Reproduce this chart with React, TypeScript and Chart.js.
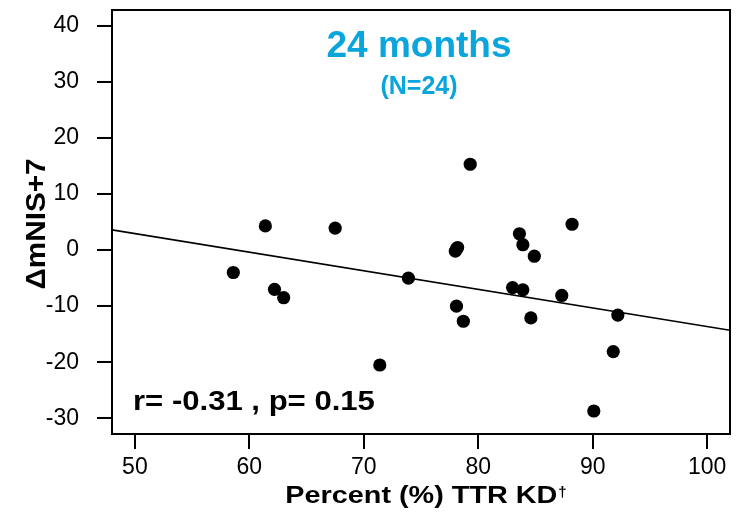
import { useEffect, useRef } from 'react';
import { Chart, registerables } from 'chart.js';

Chart.register(...registerables);

// Percent (%) TTR knockdown for each patient
const ttrKd = [58.6, 61.4, 62.2, 63.0, 67.5, 71.4, 73.9, 79.3, 78.0, 78.2, 78.1, 78.1, 78.7, 83.0, 83.6, 83.9, 83.9, 84.9, 84.6, 87.3, 88.2, 91.8, 92.2, 90.1];
// Change in mNIS+7 at 24 months
const deltaMnis = [-4.0, 4.3, -7.0, -8.5, 3.9, -20.5, -5.0, 15.3, -0.2, 0.45, 0.2, -10.0, -12.7, -6.7, 2.9, 0.95, -7.1, -1.1, -12.1, -8.1, 4.6, -18.1, -11.6, -28.7];
// Regression line end points
const fitX = [48, 102];
const fitY = [3.6, -14.3];
// Axis ticks
const xTicks = [50, 60, 70, 80, 90, 100];
const yTicks = [-30, -20, -10, 0, 10, 20, 30, 40];

const titleText = '24 months';
const subtitleText = '(N=24)';
const statText = 'r= -0.31 , p= 0.15';
const xTitleMain = 'Percent (%) TTR KD';
const xTitleMark = '†';
const yTitle = 'ΔmNIS+7';

const FONT = '"Liberation Sans", Arial, Helvetica, sans-serif';

const annotationPlugin = {
  id: 'annotations',
  afterDraw(chart: any) {
    const { ctx, chartArea } = chart;
    const { left, top, right, bottom } = chartArea;
    ctx.save();
    ctx.strokeStyle = '#000';
    ctx.lineWidth = 2;
    ctx.strokeRect(left, top, right - left, bottom - top);

    const cx = (left + right) / 2 - 2;
    ctx.fillStyle = '#0aa5dc';
    ctx.textAlign = 'center';
    ctx.textBaseline = 'alphabetic';
    ctx.font = `bold 37px ${FONT}`;
    ctx.fillText(titleText, cx, top + 47);
    ctx.font = `bold 25px ${FONT}`;
    ctx.fillText(subtitleText, cx, top + 84);

    // correlation text
    ctx.fillStyle = '#000';
    ctx.textAlign = 'left';
    ctx.save();
    ctx.translate(left + 21, bottom - 24);
    ctx.scale(1.11, 1);
    ctx.font = `bold 28px ${FONT}`;
    ctx.fillText(statText, 0, 0);
    ctx.restore();

    // x axis title
    ctx.font = `bold 24px ${FONT}`;
    const sx = 1.2;
    const wMain = ctx.measureText(xTitleMain).width * sx;
    ctx.font = `bold 15px ${FONT}`;
    const wMark = ctx.measureText(xTitleMark).width;
    const total = wMain + 1 + wMark;
    const startX = (left + right) / 2 + 5 - total / 2;
    ctx.save();
    ctx.translate(startX, bottom + 69);
    ctx.scale(sx, 1);
    ctx.font = `bold 24px ${FONT}`;
    ctx.fillText(xTitleMain, 0, 0);
    ctx.restore();
    ctx.font = `bold 15px ${FONT}`;
    ctx.fillText(xTitleMark, startX + wMain + 1, bottom + 63);

    // y axis title
    ctx.save();
    ctx.translate(45, (top + bottom) / 2 + 2);
    ctx.rotate(-Math.PI / 2);
    ctx.scale(1.06, 1);
    ctx.textAlign = 'center';
    ctx.font = `bold 28px ${FONT}`;
    ctx.fillText(yTitle, 0, 0);
    ctx.restore();

    ctx.restore();
  },
};

export default function App() {
  const ref = useRef<HTMLCanvasElement | null>(null);

  useEffect(() => {
    if (!ref.current) return;
    const points = ttrKd.map((x, i) => ({ x, y: deltaMnis[i] }));
    const line = fitX.map((x, i) => ({ x, y: fitY[i] }));
    const chart = new Chart(ref.current, {
      type: 'scatter',
      data: {
        datasets: [
          {
            type: 'line',
            label: 'fit',
            data: line,
            borderColor: '#000',
            borderWidth: 1.6,
            pointRadius: 0,
            fill: false,
          } as any,
          {
            label: 'patients',
            data: points,
            backgroundColor: '#000',
            borderWidth: 0,
            pointRadius: 6.6,
            pointHoverRadius: 6.6,
          },
        ],
      },
      options: {
        animation: false,
        responsive: true,
        maintainAspectRatio: false,
        layout: { padding: { top: 10, right: 9, left: 0, bottom: 0 } },
        plugins: {
          legend: { display: false },
          tooltip: { enabled: false },
        },
        scales: {
          x: {
            type: 'linear',
            min: 48,
            max: 102,
            afterBuildTicks: (scale: any) => {
              scale.ticks = xTicks.map((v) => ({ value: v }));
            },
            afterFit: (scale: any) => {
              scale.height = 79;
              scale.paddingLeft = 0;
              scale.paddingRight = 0;
            },
            border: { display: false },
            grid: {
              display: true,
              drawOnChartArea: false,
              drawTicks: true,
              tickLength: 15,
              color: '#000',
              lineWidth: 2,
            },
            ticks: {
              color: '#000',
              padding: 5,
              maxRotation: 0,
              autoSkip: false,
              font: { family: FONT, size: 23 },
            },
            title: { display: false },
          },
          y: {
            type: 'linear',
            min: -32.8,
            max: 42.8,
            afterBuildTicks: (scale: any) => {
              scale.ticks = yTicks.map((v) => ({ value: v }));
            },
            afterFit: (scale: any) => {
              scale.width = 112;
              scale.paddingTop = 0;
              scale.paddingBottom = 0;
            },
            border: { display: false },
            grid: {
              display: true,
              drawOnChartArea: false,
              drawTicks: true,
              tickLength: 15,
              color: '#000',
              lineWidth: 2,
            },
            ticks: {
              color: '#000',
              padding: 18,
              autoSkip: false,
              font: { family: FONT, size: 23 },
            },
            title: { display: false },
          },
        },
      },
      plugins: [annotationPlugin],
    });
    return () => chart.destroy();
  }, []);

  return (
    <div style={{ position: 'absolute', left: 0, top: 0, width: 739, height: 513, background: '#fff' }}>
      <canvas ref={ref} />
    </div>
  );
}
